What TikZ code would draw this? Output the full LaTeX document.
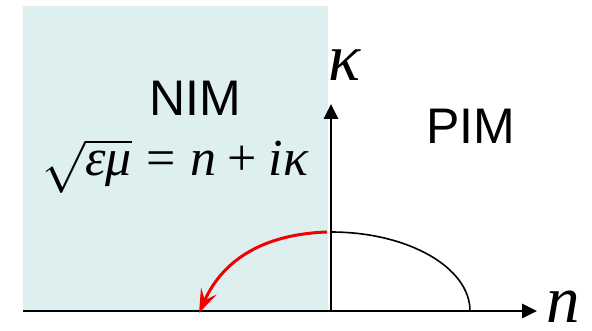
\RequirePackage{fix-cm}
\documentclass[tikz,border=0pt]{standalone}
\usepackage{fontspec}
\setmainfont{Liberation Sans}
\newfontfamily\tms{Liberation Serif}
\usetikzlibrary{arrows.meta}
\definecolor{nimbg}{RGB}{221,239,239}
\definecolor{arcred}{RGB}{245,0,0}
\begin{document}
\begin{tikzpicture}[x=1pt,y=1pt,
  axis/.style={line width=2.6pt, -{Triangle[length=15pt,width=14pt]}},
  region/.style={font=\fontsize{50}{60}\selectfont, inner sep=0pt},
  axlabel/.style={font=\fontsize{67}{80}\selectfont\tms\itshape, inner sep=0pt, anchor=base},
  blackarc/.style={line width=1.6pt},
  redarc/.style={line width=3pt, arcred, -{Stealth[length=24pt,width=17pt,inset=10pt]}}]
\useasboundingbox (0,0) rectangle (592,330);
\fill[nimbg] (23,19) rectangle (328,324);
\coordinate (O) at (331,19);
\coordinate (L) at (23,19);
\coordinate (XE) at (537,19);
\coordinate (YE) at (331,226);
\coordinate (B0) at (331,98);
\coordinate (R0) at (327,98);
\coordinate (R1) at (199,17);
\draw[axis] (L) -- (XE);
\draw[axis] (O) -- (YE);
\draw[blackarc] (B0) arc[start angle=90, end angle=0, x radius=139, y radius=79];
\draw[redarc] (R0) .. controls (270,96) and (225,75) .. (R1);
\node[axlabel] (kappa) at (345,249) {κ};
\node[axlabel] (nlab) at (563,8) {n};
\node[region] (nim) at (195,232) {NIM};
\node[region] (pim) at (471,204) {PIM};
\node[inner sep=0pt] (formula) at (175,164) {\fontsize{52}{60}\selectfont
  $\sqrt{\hbox{\tms\itshape εμ}}\mathrel{\hbox{\tms =}}\hbox{\tms\itshape n}\mathbin{\hbox{\tms +}}\hbox{\tms\itshape iκ}$};
\end{tikzpicture}
\end{document}
